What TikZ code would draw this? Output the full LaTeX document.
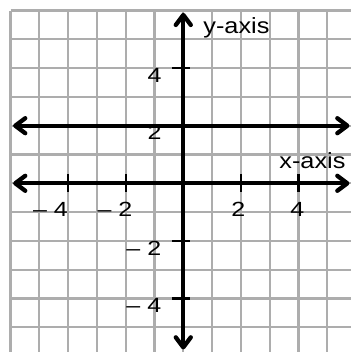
\documentclass[tikz,border=0pt]{standalone}
\usepackage{fontspec}
\setmainfont{Liberation Sans}
\newfontfamily\labfont[FakeStretch=1.15]{Liberation Sans}
\newfontfamily\numfont[FakeStretch=1.22]{Liberation Sans}
\usetikzlibrary{arrows.meta}
\begin{document}
\begin{tikzpicture}[x=28.8pt,y=28.8pt,
  gridline/.style={draw=black!32,line width=2.3pt},
  axisline/.style={draw=black,line width=4.3pt,
    {Straight Barb[length=10pt,width=15pt,line cap=round,line join=round]}-{Straight Barb[length=10pt,width=15pt,line cap=round,line join=round]}},
  tickmark/.style={draw=black,line width=2.3pt},
  numlab/.style={inner sep=0pt,font=\fontsize{20.5}{21}\numfont},
  axislab/.style={inner sep=0pt,font=\fontsize{22}{22}\labfont}]
\useasboundingbox (-6.365,-5.858) rectangle (5.823,6.365);
\fill[white] (-6.365,-5.858) rectangle (5.823,6.365);
% grid
\foreach \i in {-6,...,5} {\draw[gridline] (\i,-5.9) -- (\i,6);}
\foreach \j in {-5,...,6} {\draw[gridline] (-6,\j) -- (5.9,\j);}
% ticks
\foreach \t in {-4,-2,2,4} {
  \draw[tickmark] (\t,0.33) -- (\t,-0.3);
}
\foreach \t in {-4,-2,4} {
  \draw[tickmark] (-0.4,\t) -- (0.25,\t);
}
% axes
\coordinate (xl) at (-5.91,0);
\coordinate (xr) at (5.77,0);
\coordinate (yt) at (0,5.92);
\coordinate (yb) at (0,-5.77);
\coordinate (ll) at (-5.91,2);
\coordinate (lr) at (5.77,2);
\draw[axisline] (xl) -- (xr);
\draw[axisline] (yb) -- (yt);
\draw[axisline] (ll) -- (lr);
% labels
\node[numlab] (ly4) at (-1.0,3.76) {4};
\node[numlab] (ly2) at (-1.0,1.76) {2};
\node[numlab] (lym2) at (-1.37,-2.27) {– 2};
\node[numlab] (lym4) at (-1.37,-4.23) {– 4};
\node[numlab] (lxm4) at (-4.61,-0.9) {– 4};
\node[numlab] (lxm2) at (-2.37,-0.9) {– 2};
\node[numlab] (lx2) at (1.91,-0.9) {2};
\node[numlab] (lx4) at (3.96,-0.9) {4};
\node[axislab,anchor=base west] (xlab) at (3.33,0.52) {x-axis};
\node[axislab,anchor=base west] (ylab) at (0.69,5.21) {y-axis};
\end{tikzpicture}
\end{document}
